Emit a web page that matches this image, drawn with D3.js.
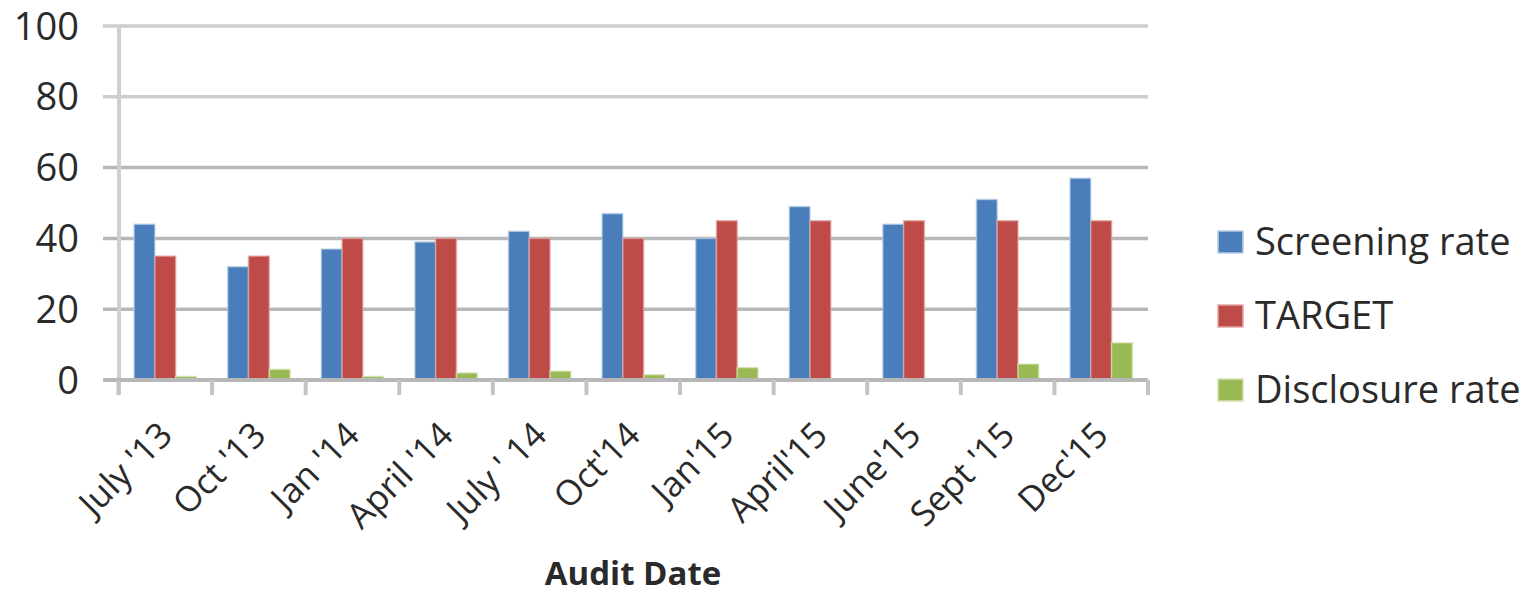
<!DOCTYPE html>
<html>
<head>
<meta charset="utf-8">
<script src="https://cdn.jsdelivr.net/npm/d3@7"></script>
<style>
  html, body { margin: 0; padding: 0; background: #fff; }
  svg { display: block; }
  text { font-family: "Open Sans", "Liberation Sans", sans-serif; fill: #2a2a2a; }
</style>
</head>
<body>
<svg id="chart" width="1532" height="596"></svg>
<script>
const categories = ["July '13", "Oct '13", "Jan '14", "April '14", "July ' 14", "Oct'14", "Jan'15", "April'15", "June'15", "Sept '15", "Dec'15"];
const screeningRate = [44, 32, 37, 39, 42, 47, 40, 49, 44, 51, 57];
const target = [35, 35, 40, 40, 40, 40, 45, 45, 45, 45, 45];
const disclosureRate = [1, 3, 1, 2, 2.5, 1.5, 3.5, 0, 0, 4.5, 10.5];
const seriesNames = ["Screening rate", "TARGET", "Disclosure rate"];
const yTicks = [0, 20, 40, 60, 80, 100];
const xTitle = "Audit Date";

const colors = ["#4a7ebb", "#be4b48", "#98b954"];
const halos = ["#b8cde8", "#e2a6a5", "#d4e4b4"];
const series = [screeningRate, target, disclosureRate];

const svg = d3.select("#chart");
const x = d3.scaleBand().domain(categories).range([118.5, 1148]).paddingInner(0).paddingOuter(0);
const y = d3.scaleLinear().domain([0, 100]).range([380, 26]);
const bw = x.bandwidth() / 4.5;

// gridlines
svg.append("g").selectAll("line").data(yTicks.filter(d => d > 0)).join("line")
  .attr("x1", 103).attr("x2", 1148)
  .attr("y1", d => y(d)).attr("y2", d => y(d))
  .attr("stroke", d => d >= 80 ? "#cdcdcd" : "#b7b7b7")
  .attr("stroke-width", 3.5);

// y axis line
svg.append("line").attr("x1", 119).attr("x2", 119).attr("y1", y(100)).attr("y2", 395)
  .attr("stroke", "#cfcfcf").attr("stroke-width", 4);

// bars
series.forEach((vals, si) => {
  svg.append("g").selectAll("rect").data(vals.map((v, i) => ({c: categories[i], v}))).join("rect")
    .attr("x", d => x(d.c) + 0.75 * bw + si * bw)
    .attr("width", bw)
    .attr("y", d => y(d.v))
    .attr("height", d => y(0) - y(d.v))
    .attr("fill", colors[si])
    .attr("stroke", halos[si]).attr("stroke-opacity", 0.7).attr("stroke-width", 1.5);
});

// x axis baseline + ticks
const xAxis = d3.axisBottom(x).tickSize(0).tickFormat("");
const xg = svg.append("g").attr("transform", `translate(0,${y(0)})`).call(xAxis);
xg.select(".domain").attr("stroke", "#b7b7b7").attr("stroke-width", 4).attr("d", "M103,0H1148");
const bounds = categories.map(c => x(c)).concat([x.range()[1]]);
svg.append("g").selectAll("line").data(bounds).join("line")
  .attr("x1", d => d).attr("x2", d => d).attr("y1", y(0)).attr("y2", 395)
  .attr("stroke", "#c4c4c4").attr("stroke-width", 4);

// y tick labels
svg.append("g").selectAll("text").data(yTicks).join("text")
  .attr("x", 79).attr("y", d => y(d))
  .attr("dy", "0.36em")
  .attr("text-anchor", "end")
  .attr("font-size", 38)
  .text(d => d);

// x labels
svg.append("g").selectAll("text").data(categories).join("text")
  .attr("transform", d => `translate(${x(d) + x.bandwidth() / 2 + 9},437) rotate(-45)`)
  .attr("text-anchor", "end")
  .attr("font-size", 35)
  .text(d => d);

// x title
svg.append("text").attr("x", 633).attr("y", 585).attr("text-anchor", "middle")
  .attr("font-size", 33).attr("font-weight", "bold").attr("fill", "#1e1e1e").text(xTitle);

// legend
const lg = svg.append("g");
seriesNames.forEach((n, i) => {
  const yy = 255 + i * 74;
  lg.append("rect").attr("x", 1218).attr("y", yy - 24).attr("width", 25).attr("height", 22)
    .attr("fill", colors[i]).attr("stroke", halos[i]).attr("stroke-width", 1.5);
  lg.append("text").attr("x", 1255).attr("y", yy).attr("font-size", 38).text(n);
});
</script>
</body>
</html>
